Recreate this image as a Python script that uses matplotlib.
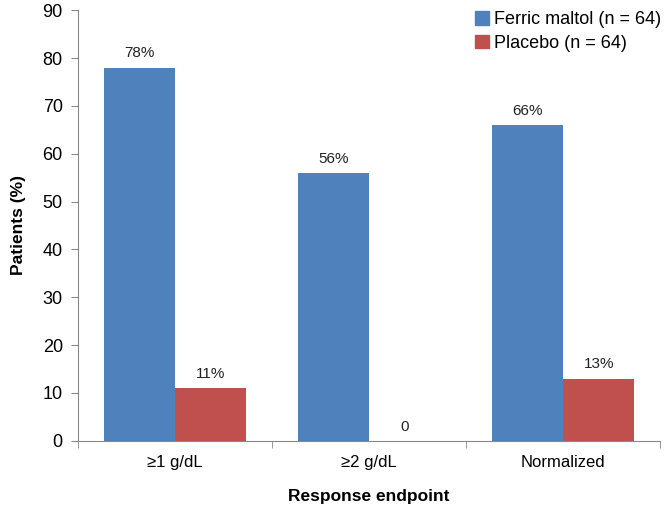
import matplotlib
matplotlib.use("Agg")
import matplotlib.pyplot as plt
import numpy as np
from matplotlib.patches import Patch

categories = ["≥1 g/dL", "≥2 g/dL", "Normalized"]
ferric = [78, 56, 66]
placebo = [11, 0, 13]
ferric_labels = ["78%", "56%", "66%"]
placebo_labels = ["11%", "0", "13%"]
series_names = ["Ferric maltol (n = 64)", "Placebo (n = 64)"]
colors = ["#4F81BD", "#C0504D"]

plt.rcParams['font.family'] = ['Liberation Sans', 'DejaVu Sans']

fig = plt.figure(figsize=(6.67, 5.09), dpi=100)
ax = fig.add_axes([0.117, 0.134, 0.873, 0.846])

x = np.arange(len(categories))
w = 0.366
b1 = ax.bar(x - w/2, ferric, w, color=colors[0])
b2 = ax.bar(x + w/2, placebo, w, color=colors[1])

for rect, lab in zip(b1, ferric_labels):
    ax.text(rect.get_x() + rect.get_width()/2, rect.get_height() + 1.5, lab,
            ha='center', va='bottom', fontsize=11, color='#222222')
for rect, lab in zip(b2, placebo_labels):
    ax.text(rect.get_x() + rect.get_width()/2, rect.get_height() + 1.5, lab,
            ha='center', va='bottom', fontsize=11, color='#222222')

ax.set_xlim(-0.5, len(categories) - 0.5)
ax.set_ylim(0, 90)
ax.set_yticks(range(0, 91, 10))
ax.tick_params(axis='y', labelsize=13, length=5, color='#888888', pad=6)
ax.set_xticks(x)
ax.set_xticklabels(categories, fontsize=12)
ax.tick_params(axis='x', length=0, pad=10)
ax.set_xticks([-0.5, 0.5, 1.5, 2.5], minor=True)
ax.tick_params(axis='x', which='minor', length=5, color='#888888')

for s in ['top', 'right']:
    ax.spines[s].set_visible(False)
for s in ['left', 'bottom']:
    ax.spines[s].set_color('#888888')

ax.set_ylabel("Patients (%)", fontsize=12.5, fontweight='bold', labelpad=12)
ax.set_xlabel("Response endpoint", fontsize=12.5, fontweight='bold', labelpad=14)

handles = [Patch(color=c) for c in colors]
ax.legend(handles, series_names, loc='upper right', bbox_to_anchor=(1.03, 1.035),
          frameon=False, fontsize=13, handlelength=0.75, handleheight=0.75,
          handletextpad=0.3, labelspacing=0.35)

fig.savefig("out.png", dpi=100)
